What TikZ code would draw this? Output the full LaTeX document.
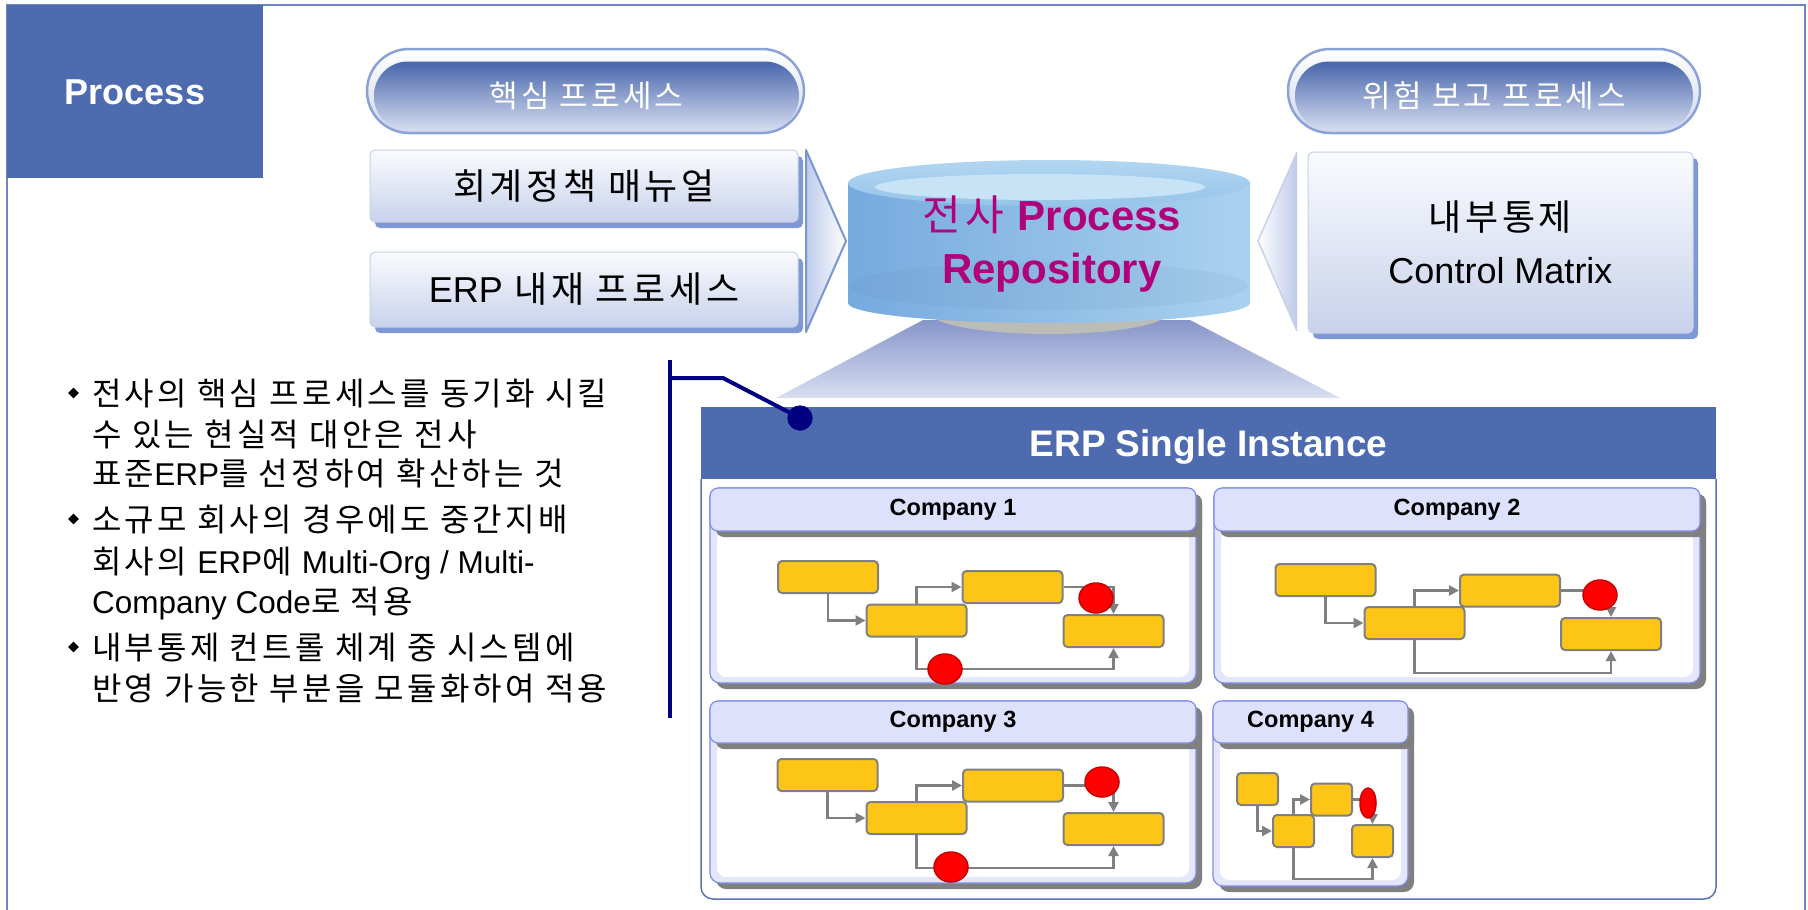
\documentclass[tikz,border=0pt]{standalone}
\usepackage{fontspec}
\setmainfont[LetterSpace=10]{Noto Sans CJK KR}
\newfontfamily\lat{Liberation Sans}
\usepackage{tikz}
\usetikzlibrary{arrows.meta,shapes.geometric,shadows}
\definecolor{hdrblue}{RGB}{77,107,174}
\definecolor{framecol}{RGB}{110,135,195}
\definecolor{rimblue}{RGB}{140,162,214}
\definecolor{rimfill}{RGB}{205,214,236}
\definecolor{pilltop}{RGB}{72,102,172}
\definecolor{pillbot}{RGB}{214,221,240}
\definecolor{boxtop}{RGB}{250,251,254}
\definecolor{boxbot}{RGB}{200,210,235}
\definecolor{boxedge}{RGB}{200,208,232}
\definecolor{boxshade}{RGB}{125,152,212}
\definecolor{chevl}{RGB}{190,202,234}
\definecolor{chevedge}{RGB}{120,150,210}
\definecolor{cylleft}{RGB}{118,170,222}
\definecolor{cylright}{RGB}{170,210,239}
\definecolor{cyltopa}{RGB}{178,214,241}
\definecolor{cyltopb}{RGB}{150,196,233}
\definecolor{cylring}{RGB}{200,226,246}
\definecolor{cylbase}{RGB}{188,188,182}
\definecolor{repomag}{RGB}{176,0,122}
\definecolor{spottop}{RGB}{135,150,202}
\definecolor{spotbot}{RGB}{216,223,241}
\definecolor{railnavy}{RGB}{0,0,128}
\definecolor{panelline}{RGB}{90,115,180}
\definecolor{compedge}{RGB}{125,140,235}
\definecolor{compfill}{RGB}{228,231,252}
\definecolor{comphead}{RGB}{221,225,252}
\definecolor{compshade}{RGB}{128,128,128}
\definecolor{taskyellow}{RGB}{253,197,21}
\definecolor{flowgrey}{RGB}{128,128,128}
\definecolor{stopred}{RGB}{200,0,0}
\newcommand\en[1]{{\lat #1}}
\newcommand\enb[1]{{\lat\fontsize{31.5}{36}\selectfont #1}}

\begin{document}
\begin{tikzpicture}[x=1pt,y=-1pt]
\tikzstyle{hdrbox}=[rectangle,fill=hdrblue,text=white,font=\lat\bfseries\fontsize{36}{43}\selectfont,text height=25.8pt,text depth=0pt,inner sep=0pt]
\tikzstyle{pillrim}=[rectangle,rounded corners=42pt,draw=rimblue,line width=2.5pt,top color=white,bottom color=rimfill,inner sep=0pt,minimum height=84pt]
\tikzstyle{pillcore}=[rectangle,rounded corners=34pt,top color=pilltop,bottom color=pillbot,text=white,font=\fontsize{31}{37}\selectfont,inner sep=0pt,minimum height=69pt]
\tikzstyle{srcbox}=[rectangle,rounded corners=5pt,top color=boxtop,bottom color=boxbot,draw=boxedge,line width=1pt,drop shadow={shadow xshift=5pt,shadow yshift=-6pt,fill=boxshade,opacity=1},font=\fontsize{36}{53}\selectfont,align=center,inner sep=0pt]
\tikzstyle{chev}=[draw=chevedge,line width=2pt,line join=round]
\tikzstyle{repotext}=[text=repomag,font=\fontsize{42}{53}\selectfont,align=center,inner sep=0pt]
\tikzstyle{rail}=[draw=railnavy,line width=4pt]
\tikzstyle{pin}=[circle,fill=railnavy,minimum size=25pt,inner sep=0pt]
\tikzstyle{erpbar}=[rectangle,fill=hdrblue,text=white,font=\lat\bfseries\fontsize{37}{44}\selectfont,text height=26.5pt,text depth=0pt,minimum width=1015pt,minimum height=72pt,inner sep=0pt]
\tikzstyle{compbody}=[rounded corners=10pt,fill=compfill,draw=compedge,line width=1.2pt]
\tikzstyle{comphead}=[rectangle,rounded corners=8pt,fill=comphead,draw=compedge,line width=1.2pt,font=\lat\bfseries\fontsize{23.5}{28}\selectfont,inner sep=0pt]
\tikzstyle{flowbox}=[rectangle,rounded corners=4pt,fill=taskyellow,draw=flowgrey,line width=2pt,minimum width=100pt,minimum height=32pt,inner sep=0pt]
\tikzstyle{redstop}=[ellipse,fill=red,draw=stopred,line width=1.5pt,minimum width=34pt,minimum height=30pt,inner sep=0pt]
\tikzstyle{flowline}=[draw=flowgrey,line width=2.5pt,-{Triangle[length=10pt,width=10pt]}]
\tikzstyle{bullet}=[diamond,fill=black,minimum width=11pt,minimum height=11pt,inner sep=0pt]
\tikzstyle{note}=[anchor=base west,inner sep=0pt,font=\fontsize{32}{38}\selectfont]
\useasboundingbox (0,0) rectangle (1808,910);
% frame and title
\draw[framecol,line width=1.5pt] (7,915) -- (7,5) -- (1805,5) -- (1805,915);
\node[hdrbox,minimum width=256pt,minimum height=173pt] (proc) at (135,91.5) {Process};
% process sources
\node[pillrim,minimum width=437pt] (corerim) at (585.5,91) {};
\node[pillcore,minimum width=425pt] (core) at (586.5,96) {핵심 프로세스};
\node[pillrim,minimum width=412pt] (riskrim) at (1494,91) {};
\node[pillcore,minimum width=398pt] (risk) at (1494,96) {위험 보고 프로세스};
\node[srcbox,minimum width=428pt,minimum height=72pt] (manual) at (584,186) {회계정책 매뉴얼};
\node[srcbox,minimum width=428pt,minimum height=75pt] (embed) at (584,289.5) {\en{ERP} 내재 프로세스};
\node[srcbox,minimum width=385pt,minimum height=181pt] (matrix) at (1500.5,242.5) {내부통제\\\en{Control Matrix}};
\shade[left color=chevl,right color=white] (806,150) -- (846,241) -- (806,332) -- cycle;
\draw[chev] (806,150) -- (846,241) -- (806,332) -- cycle;
\shade[left color=white,right color=chevl] (1297,152) -- (1258,241) -- (1297,331) -- cycle;
\draw[chev,draw=boxedge,line width=1.5pt] (1297,152) -- (1258,241) -- (1297,331);
% repository
\shade[top color=spottop,bottom color=spotbot] (923,320) -- (1190,320) -- (1340,398) -- (776,398) -- cycle;
\fill[cylbase] (1049,313) ellipse [x radius=118,y radius=21];
\shade[left color=cylleft,right color=cylright] (848,183) rectangle (1250,303);
\shade[left color=cylleft,right color=cylright] (1049,303) ellipse [x radius=201,y radius=20];
\fill[cylleft!70!black,opacity=.08] (1049,286) ellipse [x radius=199,y radius=24];
\shade[top color=cyltopa,bottom color=cyltopb] (1049,183) ellipse [x radius=201,y radius=23];
\fill[cylring] (1040,187) ellipse [x radius=165,y radius=13];
\node[repotext] (repo) at (1052,244) {전사 {\lat\bfseries Process}\\{\lat\bfseries Repository}};
% erp instance
\fill[white] (701,479) rectangle (1716,899);
\draw[panelline,line width=1.5pt] (701,479) [rounded corners=12pt] -- (701,899) -- (1716,899) -- (1716,479);
\node[erpbar] (erp) at (1208.5,443) {ERP Single Instance};
\coordinate (railtop) at (670,360);
\coordinate (railbot) at (670,718);
\coordinate (railjoin) at (670,378);
\coordinate (railbend) at (723,378);
\node[pin] (dot) at (800,418) {};
\draw[rail] (railtop) -- (railbot);
\draw[rail] (railjoin) -- (railbend) -- (dot.center);
\node[pin] at (dot) {};
% companies
\fill[compshade,rounded corners=10pt] (716,494) rectangle (1202,689);
\draw[compbody] (710,488) rectangle (1196,683);
\fill[white,rounded corners=9pt] (717,531) rectangle (1189,677);
\fill[compshade,rounded corners=8pt] (716,494) rectangle (1202,537);
\node[comphead,minimum width=486pt,minimum height=43pt] (co1) at (953,509.5) {Company 1};
\fill[compshade,rounded corners=10pt] (1220,494) rectangle (1706,689);
\draw[compbody] (1214,488) rectangle (1700,683);
\fill[white,rounded corners=9pt] (1221,531) rectangle (1693,677);
\fill[compshade,rounded corners=8pt] (1220,494) rectangle (1706,537);
\node[comphead,minimum width=486pt,minimum height=43pt] (co2) at (1457,509.5) {Company 2};
\fill[compshade,rounded corners=10pt] (716,707) rectangle (1202,889);
\draw[compbody] (710,701) rectangle (1196,883);
\fill[white,rounded corners=9pt] (717,743) rectangle (1189,877);
\fill[compshade,rounded corners=8pt] (716,707) rectangle (1202,749);
\node[comphead,minimum width=486pt,minimum height=42pt] (co3) at (953,722) {Company 3};
\fill[compshade,rounded corners=10pt] (1219,707) rectangle (1414,892);
\draw[compbody] (1213,701) rectangle (1408,886);
\fill[white,rounded corners=9pt] (1220,743) rectangle (1401,880);
\fill[compshade,rounded corners=8pt] (1219,707) rectangle (1414,749);
\node[comphead,minimum width=195pt,minimum height=42pt] (co4) at (1310.5,722) {Company 4};
% company 1 flow
\node[flowbox] (a1) at (828,577) {};
\node[flowbox] (b1) at (916.5,620.5) {};
\node[flowbox] (c1) at (1012.5,587) {};
\node[flowbox] (d1) at (1113.5,631) {};
\coordinate (r1) at (1000,669);
\draw[flowline] (a1.south) |- (b1.west);
\draw[flowline] (b1.north) |- (c1.west);
\draw[flowline] (c1.east) -| (d1.north);
\draw[flowline] (b1.south) |- (r1) -| (d1.south);
\node[redstop] (s1) at (1096,598) {};
\node[redstop] (t1) at (945,669) {};
% company 2 flow
\node[flowbox] (a2) at (1325.5,580) {};
\node[flowbox] (b2) at (1414.5,623) {};
\node[flowbox] (c2) at (1510,590.5) {};
\node[flowbox] (d2) at (1611,634) {};
\coordinate (r2) at (1500,673);
\draw[flowline] (a2.south) |- (b2.west);
\draw[flowline] (b2.north) |- (c2.west);
\draw[flowline] (c2.east) -| (d2.north);
\draw[flowline] (b2.south) |- (r2) -| (d2.south);
\node[redstop] (s2) at (1600,595) {};
% company 3 flow
\node[flowbox] (a3) at (827.5,775) {};
\node[flowbox] (b3) at (916.5,818) {};
\node[flowbox] (c3) at (1013,785.5) {};
\node[flowbox] (d3) at (1113.5,829) {};
\coordinate (r3) at (1000,868);
\draw[flowline] (a3.south) |- (b3.west);
\draw[flowline] (b3.north) |- (c3.west);
\draw[flowline] (c3.east) -| (d3.north);
\draw[flowline] (b3.south) |- (r3) -| (d3.south);
\node[redstop] (s3) at (1102,782) {};
\node[redstop] (t3) at (951,867) {};
% company 4 flow
\node[flowbox,minimum width=41pt] (a4) at (1257.5,789) {};
\node[flowbox,minimum width=41pt] (b4) at (1293.5,831) {};
\node[flowbox,minimum width=41pt] (c4) at (1331.5,799.5) {};
\node[flowbox,minimum width=41pt] (d4) at (1372.5,841) {};
\coordinate (r4) at (1330,879);
\draw[flowline] (a4.south) |- (b4.west);
\draw[flowline] (b4.north) |- (c4.west);
\draw[flowline] (c4.east) -| (d4.north);
\draw[flowline] (b4.south) |- (r4) -| (d4.south);
\node[redstop,minimum width=16pt] (s4) at (1368,803) {};
% notes
\node[bullet] (m1) at (73.5,393) {};
\node[note] (n1) at (92,405) {전사의 핵심 프로세스를 동기화 시킬};
\node[note] (n2) at (92,446) {수 있는 현실적 대안은 전사};
\node[note] (n3) at (92,485) {표준\enb{ERP}를 선정하여 확산하는 것};
\node[bullet] (m2) at (73.5,519) {};
\node[note] (n4) at (92,531) {소규모 회사의 경우에도 중간지배};
\node[note] (n5) at (92,573) {회사의 \enb{ERP}에 \enb{Multi-Org / Multi-}};
\node[note] (n6) at (92,613) {\enb{Company Code}로 적용};
\node[bullet] (m3) at (73.5,647) {};
\node[note] (n7) at (92,659) {내부통제 컨트롤 체계 중 시스템에};
\node[note] (n8) at (92,700) {반영 가능한 부분을 모듈화하여 적용};
\end{tikzpicture}
\end{document}
